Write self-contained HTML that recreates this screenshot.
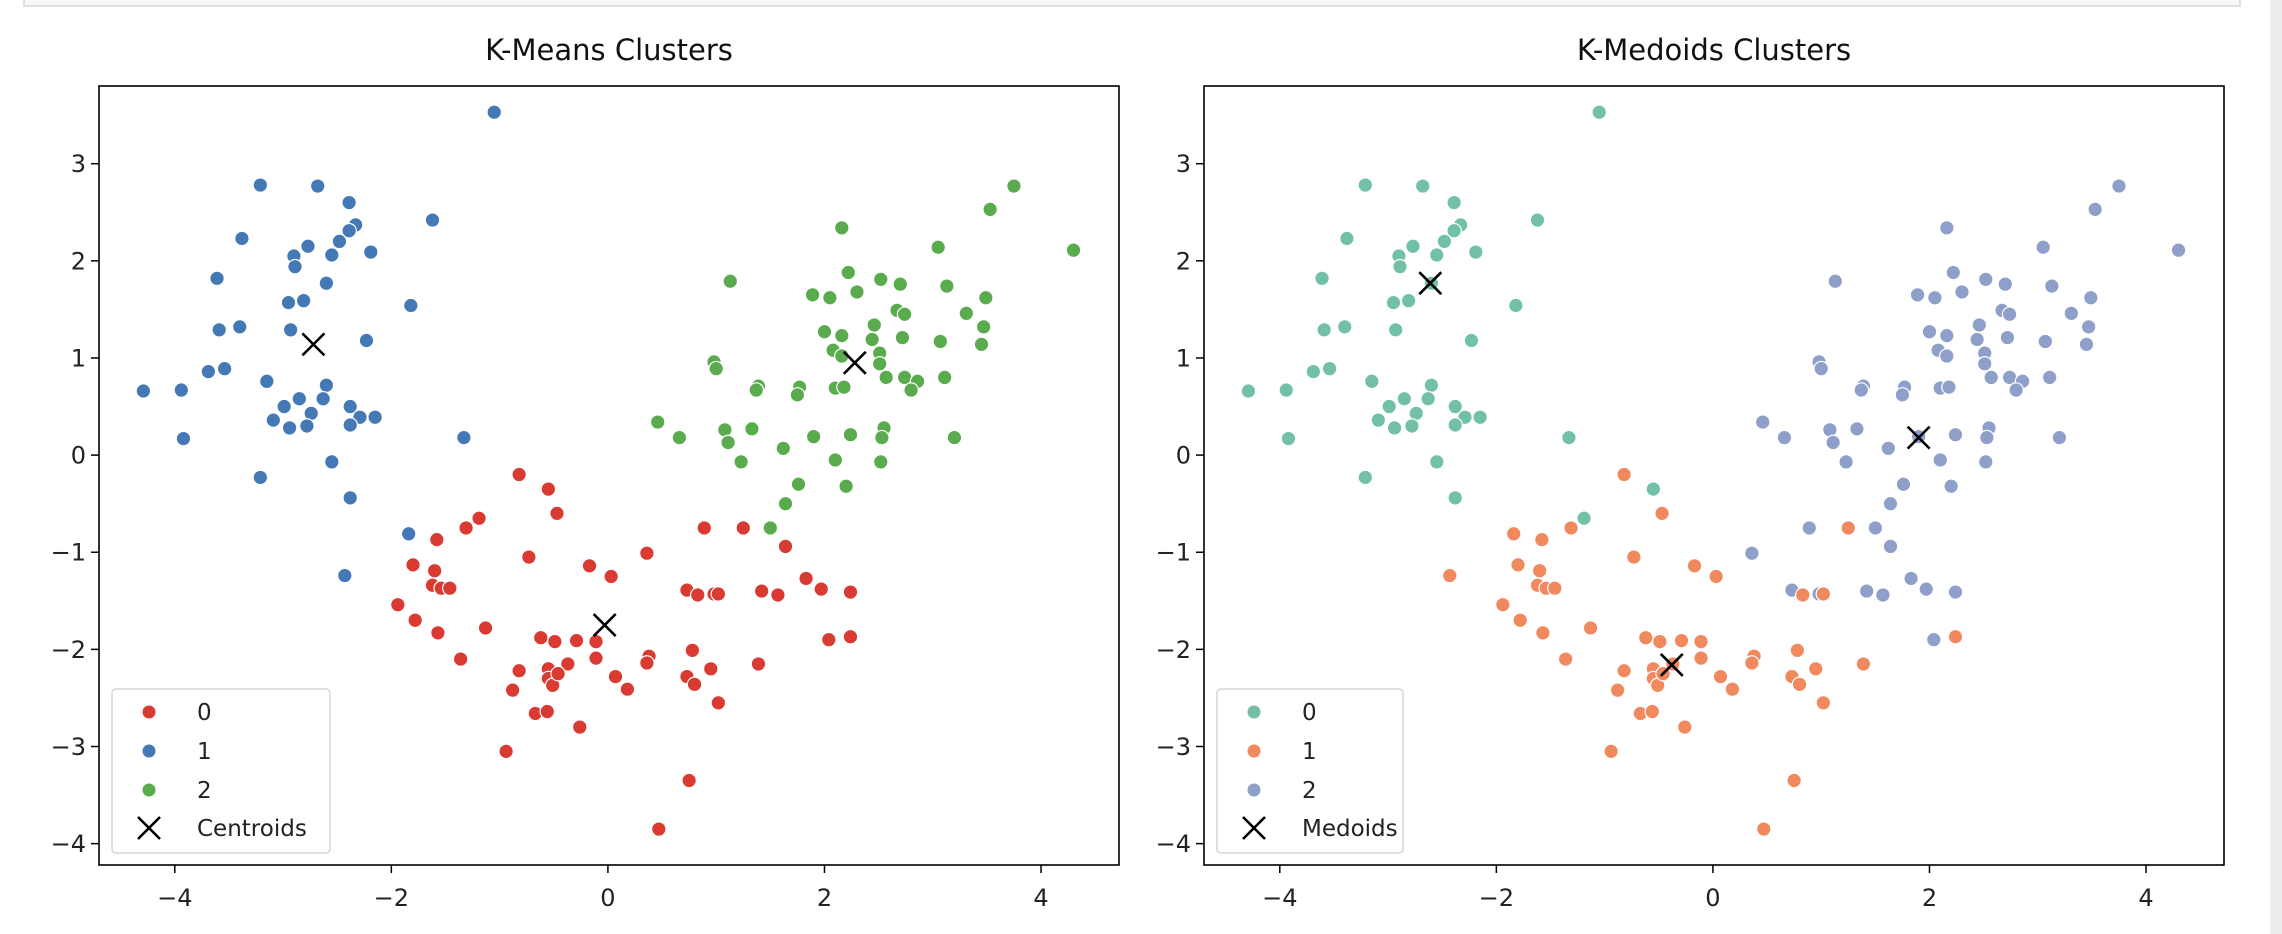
<!DOCTYPE html>
<html><head><meta charset="utf-8"><style>
html,body{margin:0;padding:0;background:#fff;width:2282px;height:934px;overflow:hidden}
svg{display:block;font-family:"DejaVu Sans","Liberation Sans",sans-serif}
</style></head><body>
<svg id="fig" width="2282" height="934" viewBox="0 0 2282 934">
<rect x="24" y="-2" width="2216" height="8" fill="#f7f7f7" stroke="#e0e0e0" stroke-width="2"/>
<rect x="2270" y="0" width="12" height="934" fill="#ececec"/>
</svg>
<script>
const xs=[-1.05,-3.21,-2.68,-2.39,-2.33,-2.39,-2.48,-2.55,-2.19,-2.77,-2.90,-2.89,-3.38,-3.61,-1.62,-2.60,-2.95,-2.81,-1.82,-3.59,-3.40,-2.93,-2.23,-3.69,-3.54,-4.29,-3.94,-3.92,-3.15,-2.60,-2.85,-2.63,-2.99,-2.74,-3.09,-2.94,-2.78,-2.38,-2.29,-2.15,-2.38,-1.33,-3.21,-2.55,-2.38,-2.43,-1.84,
-0.82,-0.55,-0.47,-1.19,-1.31,-1.58,-0.73,-0.17,0.03,0.36,0.89,1.25,1.64,-1.80,-1.60,-1.62,-1.54,-1.46,-1.94,-1.78,-1.57,-1.13,-1.36,-0.62,-0.49,-0.29,-0.11,-0.11,-0.37,-0.55,-0.55,-0.51,-0.46,-0.82,-0.88,0.07,0.18,0.38,0.36,-0.67,-0.56,-0.26,-0.94,0.73,0.83,0.98,1.02,1.42,1.57,1.83,1.97,2.24,2.04,2.24,0.78,0.95,0.73,0.80,1.02,1.39,0.75,0.47,
3.75,3.53,4.30,3.05,2.16,1.13,2.22,2.52,2.70,3.13,1.89,2.05,2.30,3.49,2.67,2.74,3.31,2.46,3.47,2.00,2.16,2.44,2.72,3.07,3.45,2.08,2.16,2.51,2.51,0.98,1.00,2.57,2.74,3.11,2.86,2.80,2.10,2.18,1.39,1.37,1.77,1.75,0.46,0.66,1.08,1.11,1.33,1.90,2.24,2.55,2.53,3.20,1.62,1.23,2.10,2.52,1.76,2.20,1.64,1.50];
const ys=[3.53,2.78,2.77,2.60,2.37,2.31,2.20,2.06,2.09,2.15,2.05,1.94,2.23,1.82,2.42,1.77,1.57,1.59,1.54,1.29,1.32,1.29,1.18,0.86,0.89,0.66,0.67,0.17,0.76,0.72,0.58,0.58,0.50,0.43,0.36,0.28,0.30,0.50,0.39,0.39,0.31,0.18,-0.23,-0.07,-0.44,-1.24,-0.81,
-0.20,-0.35,-0.60,-0.65,-0.75,-0.87,-1.05,-1.14,-1.25,-1.01,-0.75,-0.75,-0.94,-1.13,-1.19,-1.34,-1.37,-1.37,-1.54,-1.70,-1.83,-1.78,-2.10,-1.88,-1.92,-1.91,-1.92,-2.09,-2.15,-2.20,-2.30,-2.37,-2.25,-2.22,-2.42,-2.28,-2.41,-2.07,-2.14,-2.66,-2.64,-2.80,-3.05,-1.39,-1.44,-1.43,-1.43,-1.40,-1.44,-1.27,-1.38,-1.41,-1.90,-1.87,-2.01,-2.20,-2.28,-2.36,-2.55,-2.15,-3.35,-3.85,
2.77,2.53,2.11,2.14,2.34,1.79,1.88,1.81,1.76,1.74,1.65,1.62,1.68,1.62,1.49,1.45,1.46,1.34,1.32,1.27,1.23,1.19,1.21,1.17,1.14,1.08,1.02,1.05,0.94,0.96,0.89,0.80,0.80,0.80,0.76,0.67,0.69,0.70,0.71,0.67,0.70,0.62,0.34,0.18,0.26,0.13,0.27,0.19,0.21,0.28,0.18,0.18,0.07,-0.07,-0.05,-0.07,-0.30,-0.32,-0.50,-0.75];
const kmeansLabels=[
1,1,1,1,1,1,1,1,1,1,
1,1,1,1,1,1,1,1,1,1,
1,1,1,1,1,1,1,1,1,1,
1,1,1,1,1,1,1,1,1,1,
1,1,1,1,1,1,1,
0,0,0,0,0,0,0,0,0,0,
0,0,0,0,0,0,0,0,0,0,
0,0,0,0,0,0,0,0,0,0,
0,0,0,0,0,0,0,0,0,0,
0,0,0,0,0,0,0,0,0,0,
0,0,0,0,0,0,0,0,0,0,
0,0,
2,2,2,2,2,2,2,2,2,2,
2,2,2,2,2,2,2,2,2,2,
2,2,2,2,2,2,2,2,2,2,
2,2,2,2,2,2,2,2,2,2,
2,2,2,2,2,2,2,2,2,2,
2,2,2,2,2,2,2,2,2,2];
const kmedoidsLabels=[
0,0,0,0,0,0,0,0,0,0,
0,0,0,0,0,0,0,0,0,0,
0,0,0,0,0,0,0,0,0,0,
0,0,0,0,0,0,0,0,0,0,
0,0,0,0,0,1,1,
1,0,1,0,1,1,1,1,1,2,
2,1,2,1,1,1,1,1,1,1,
1,1,1,1,1,1,1,1,1,1,
1,1,1,1,1,1,1,1,1,1,
1,1,1,2,1,2,1,2,2,2,
2,2,2,1,1,1,1,1,1,1,
1,1,
2,2,2,2,2,2,2,2,2,2,
2,2,2,2,2,2,2,2,2,2,
2,2,2,2,2,2,2,2,2,2,
2,2,2,2,2,2,2,2,2,2,
2,2,2,2,2,2,2,2,2,2,
2,2,2,2,2,2,2,2,2,2];
const centroidX=[-2.72,-0.03,2.28], centroidY=[1.14,-1.75,0.95];
const medoidX=[-2.61,-0.38,1.90], medoidY=[1.77,-2.16,0.18];
const xTicks=[-4,-2,0,2,4], yTicks=[3,2,1,0,-1,-2,-3,-4];
const xDomain=[-4.70,4.72], yDomain=[-4.22,3.80];

const NS='http://www.w3.org/2000/svg';
const svg=document.getElementById('fig');
function mk(tag,attrs,parent){const e=document.createElementNS(NS,tag);for(const k in attrs)e.setAttribute(k,attrs[k]);(parent||svg).appendChild(e);return e;}
function panel(opt){
  const L=opt.left,R=opt.right,T=86,B=865;
  const sx=v=>L+(v-xDomain[0])/(xDomain[1]-xDomain[0])*(R-L);
  const sy=v=>B-(v-yDomain[0])/(yDomain[1]-yDomain[0])*(B-T);
  const g=mk('g',{});
  
  
  const t=mk('text',{x:(L+R)/2,y:60,'text-anchor':'middle','font-size':29,fill:'#111'},g);
  t.textContent=opt.title;
  
  
  xTicks.forEach(v=>{
    const x=sx(v);
    const tk=mk('line',{x1:x,x2:x,y1:B,y2:B+8,stroke:'#000','stroke-width':1.5},g);
    
    
    const tl=mk('text',{x:x,y:906,'text-anchor':'middle','font-size':24,fill:'#222'},g);
    tl.textContent=v<0?'\u2212'+Math.abs(v):String(v);
    
    
  });
  yTicks.forEach(v=>{
    const y=sy(v);
    const tk=mk('line',{x1:L-8,x2:L,y1:y,y2:y,stroke:'#000','stroke-width':1.5},g);
    
    
    const tl=mk('text',{x:L-13,y:y+8.5,'text-anchor':'end','font-size':24,fill:'#222'},g);
    tl.textContent=v<0?'\u2212'+Math.abs(v):String(v);
    
    
  });
  for(let i=0;i<xs.length;i++){
    const c=mk('circle',{cx:sx(xs[i]),cy:sy(ys[i]),r:7.2,fill:opt.colors[opt.labels[i]],stroke:'#fff','stroke-width':1.2},g);
    
    
  }
  for(let i=0;i<opt.cx.length;i++){
    const x=sx(opt.cx[i]),y=sy(opt.cy[i]),s=11;
    const m=mk('path',{d:`M${x-s},${y-s}L${x+s},${y+s}M${x-s},${y+s}L${x+s},${y-s}`,stroke:'#000','stroke-width':2.6,fill:'none'},g);
    
    
  }
  const fr=mk('rect',{x:L,y:T,width:R-L,height:B-T,fill:'none',stroke:'#000','stroke-width':1.6},g);
  
  
  const lg=mk('g',{},g);
  
  
  const lx=L+13;
  mk('rect',{x:lx,y:689,width:opt.legW,height:164,rx:4,fill:'#fff','fill-opacity':0.85,stroke:'#d6d6d6','stroke-width':1.5},lg);
  const rows=[712,751,790,828];
  ['0','1','2'].forEach((lab,i)=>{
    const d=mk('circle',{cx:lx+37,cy:rows[i],r:6.5,fill:opt.colors[i]},lg);
    
    
    const tx=mk('text',{x:lx+85,y:rows[i]+8,'font-size':23,fill:'#222'},lg);
    tx.textContent=lab;
    
    
  });
  const y=rows[3],x=lx+37,s=11;
  const lm=mk('path',{d:`M${x-s},${y-s}L${x+s},${y+s}M${x-s},${y+s}L${x+s},${y-s}`,stroke:'#000','stroke-width':2.6},lg);
  
  
  const lt=mk('text',{x:lx+85,y:y+8,'font-size':23,fill:'#222'},lg);
  lt.textContent=opt.markLabel;
  
  
}
panel({name:'kmeans-panel',title:'K-Means Clusters',left:99,right:1119,labels:kmeansLabels,colors:['#d93a31','#4479b6','#5aab4e'],cx:centroidX,cy:centroidY,markName:'centroid',markLabel:'Centroids',legW:218});
panel({name:'kmedoids-panel',title:'K-Medoids Clusters',left:1204,right:2224,labels:kmedoidsLabels,colors:['#72c1a4','#f1895f','#8e9fca'],cx:medoidX,cy:medoidY,markName:'medoid',markLabel:'Medoids',legW:186});
</script>
</body></html>
